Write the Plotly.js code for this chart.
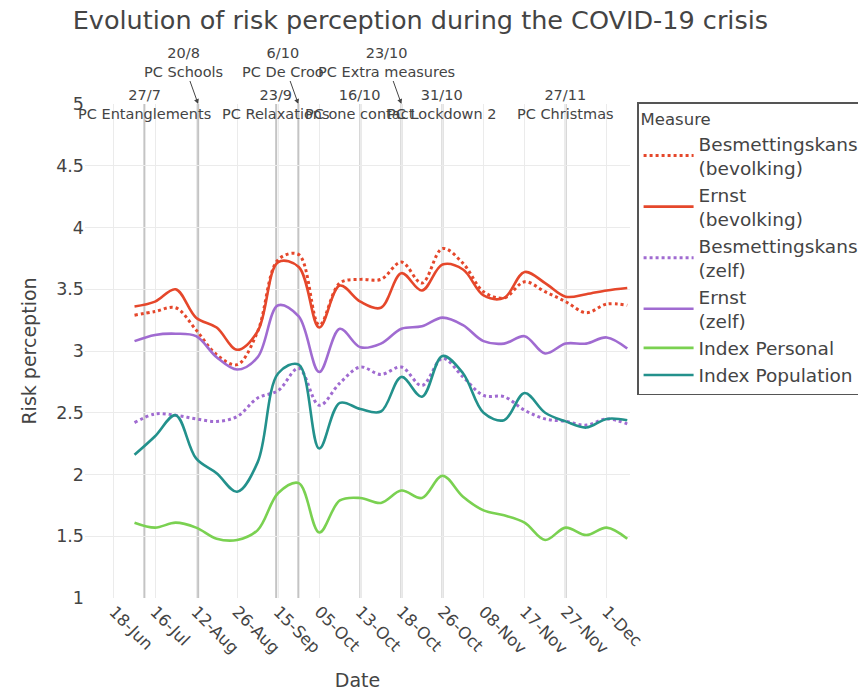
<!DOCTYPE html>
<html><head><meta charset="utf-8">
<script src="https://cdn.plot.ly/plotly-3.0.1.min.js"></script>
<style>html,body{margin:0;padding:0;background:#fff}#chart{width:858px;height:695px}</style>
</head><body><div id="chart"></div>
<script>
// Survey positions on the (evenly spaced) date axis
const xPos = [0.5,1,1.5,2,2.5,3,3.5,4,4.5,5,5.5,6,6.5,7,7.5,8,8.5,9,9.5,10,10.5,11,11.5,12,12.5];

const besmetBevolking = [3.29,3.32,3.35,3.17,2.97,2.89,3.16,3.74,3.78,3.21,3.55,3.58,3.58,3.72,3.55,3.83,3.71,3.48,3.43,3.56,3.48,3.40,3.31,3.38,3.37];
const ernstBevolking  = [3.36,3.40,3.50,3.27,3.19,3.01,3.16,3.72,3.68,3.19,3.53,3.40,3.35,3.63,3.49,3.70,3.66,3.45,3.43,3.64,3.55,3.44,3.46,3.49,3.51];
const besmetZelf      = [2.42,2.49,2.48,2.45,2.43,2.47,2.62,2.68,2.86,2.56,2.74,2.87,2.81,2.87,2.72,2.94,2.79,2.64,2.63,2.52,2.45,2.43,2.40,2.45,2.41];
const ernstZelf       = [3.08,3.13,3.14,3.12,2.95,2.85,2.95,3.37,3.28,2.83,3.18,3.03,3.06,3.18,3.20,3.27,3.21,3.08,3.06,3.12,2.98,3.06,3.06,3.11,3.02];
const indexPersonal   = [1.61,1.57,1.61,1.57,1.48,1.47,1.55,1.85,1.93,1.53,1.79,1.81,1.77,1.87,1.81,1.99,1.82,1.71,1.67,1.61,1.47,1.57,1.51,1.57,1.48];
const indexPopulation = [2.16,2.31,2.48,2.13,2.01,1.86,2.10,2.82,2.89,2.21,2.58,2.53,2.51,2.79,2.63,2.96,2.82,2.50,2.44,2.66,2.50,2.43,2.38,2.45,2.44];

const tickVals = [0,1,2,3,4,5,6,7,8,9,10,11,12];
const tickText = ['18-Jun','16-Jul','12-Aug','26-Aug','15-Sep','05-Oct','13-Oct','18-Oct','26-Oct','08-Nov','17-Nov','27-Nov','1-Dec'];

// Press conferences
const eventPos   = [0.74, 2.05, 3.95, 4.49, 6.0, 7.0, 8.0, 11.0];
const eventDate  = ['27/7','20/8','23/9','6/10','16/10','23/10','31/10','27/11'];
const eventName  = ['PC Entanglements','PC Schools','PC Relaxations','PC De Croo','PC one contact','PC Extra measures','PC Lockdown 2','PC Christmas'];
const eventArrow = [false, true, false, true, false, true, false, false];

const RED = '#E5472B', PURPLE = '#A06BD1', GREEN = '#7AD151', TEAL = '#23918C';
const FONT = 'DejaVu Sans, Verdana, sans-serif';

function tr(name, y, color, dash) {
  return {x: xPos, y: y, name: name, type: 'scatter', mode: 'lines',
    line: {color: color, width: dash ? 3 : 2.6, dash: dash || 'solid', shape: 'spline', smoothing: 1}};
}
const data = [
  tr('Besmettingskans<br>(bevolking)', besmetBevolking, RED, 'dot'),
  tr('Ernst<br>(bevolking)', ernstBevolking, RED),
  tr('Besmettingskans<br>(zelf)', besmetZelf, PURPLE, 'dot'),
  tr('Ernst<br>(zelf)', ernstZelf, PURPLE),
  tr('Index Personal', indexPersonal, GREEN),
  tr('Index Population', indexPopulation, TEAL)
];

const shapes = eventPos.map(p => ({type: 'line', xref: 'x', yref: 'paper', x0: p, x1: p, y0: 0, y1: 1,
  line: {color: '#C4C4C4', width: 2}, layer: 'below'}));

const annotations = eventPos.map((p, i) => {
  const a = {x: p, y: 5, xref: 'x', yref: 'y', text: eventDate[i] + '<br>' + eventName[i],
    font: {family: FONT, size: 14.5, color: '#444'}, align: 'center'};
  if (eventArrow[i]) {
    Object.assign(a, {showarrow: true, ax: -15, ay: -42, arrowhead: 2, arrowsize: 1, arrowwidth: 1, arrowcolor: '#444'});
  } else {
    a.showarrow = false;
  }
  return a;
});

const layout = {
  width: 858, height: 695,
  paper_bgcolor: '#fff', plot_bgcolor: '#fff',
  margin: {l: 85, r: 228, t: 104, b: 97, autoexpand: false},
  font: {family: FONT, color: '#444'},
  title: {text: 'Evolution of risk perception during the COVID-19 crisis', x: 0.49, xref: 'container', xanchor: 'center',
    y: 0.971, yref: 'container', yanchor: 'middle', font: {family: FONT, size: 25.5, color: '#444'}},
  xaxis: {range: [-0.706, 12.567], tickmode: 'array', tickvals: tickVals, ticktext: tickText, tickangle: 45,
    showgrid: true, gridcolor: '#EBEBEB', gridwidth: 1, zeroline: false, showline: false, ticks: '',
    tickfont: {family: FONT, size: 16.5, color: '#444'},
    title: {text: 'Date', font: {family: FONT, size: 19, color: '#444'}, standoff: 16}},
  yaxis: {range: [1, 5], dtick: 0.5, tick0: 1, showgrid: true, gridcolor: '#EBEBEB', gridwidth: 1,
    zeroline: false, showline: false, ticks: '', tickfont: {family: FONT, size: 17.5, color: '#444'},
    title: {text: 'Risk perception', font: {family: FONT, size: 19, color: '#444'}, standoff: 14}},
  legend: {x: 1.013, y: 1.004, xanchor: 'left', yanchor: 'top', bgcolor: '#fff',
    bordercolor: '#555', borderwidth: 1.5, itemwidth: 50,
    font: {family: FONT, size: 18.5, color: '#444'},
    title: {text: 'Measure', font: {family: FONT, size: 16.5, color: '#444'}}},
  shapes: shapes,
  annotations: annotations,
  showlegend: true
};

Plotly.newPlot('chart', data, layout, {displayModeBar: false, responsive: false});
</script>
</body></html>
